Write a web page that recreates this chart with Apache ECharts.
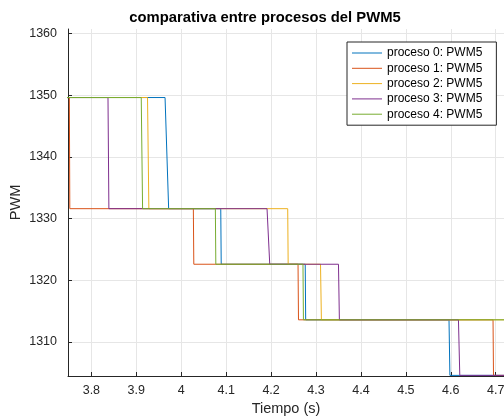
<!DOCTYPE html>
<html>
<head>
<meta charset="utf-8">
<script src="https://cdn.jsdelivr.net/npm/echarts@6/dist/echarts.min.js"></script>
<style>
	html, body { margin: 0; padding: 0; background: #fff; }
	#chart { width: 504px; height: 420px; }
</style>
</head>
<body>
<div id="chart"></div>
<script>
//niveles del PWM5
var L1 = 1349.6, L2 = 1331.6, L3 = 1322.6, L4 = 1313.6, L5 = 1304.6;

var nombres = ['proceso 0: PWM5', 'proceso 1: PWM5', 'proceso 2: PWM5', 'proceso 3: PWM5', 'proceso 4: PWM5'];
var colores = ['#0072BD', '#D95319', '#EDB120', '#7E2F8E', '#77AC30'];

//tiempo (s), valor
var proceso0 = [[3.70, L1], [3.964, L1], [3.972, L2], [4.088, L2], [4.089, L3], [4.276, L3], [4.277, L4], [4.596, L4], [4.598, L5], [4.75, L5]];
var proceso1 = [[3.70, L1], [3.751, L1], [3.752, L2], [4.027, L2], [4.028, L3], [4.260, L3], [4.261, L4], [4.694, L4], [4.695, L5], [4.75, L5]];
var proceso2 = [[3.70, L1], [3.925, L1], [3.928, L2], [4.237, L2], [4.238, L3], [4.310, L3], [4.312, L4], [4.75, L4]];
var proceso3 = [[3.70, L1], [3.837, L1], [3.839, L2], [4.191, L2], [4.197, L3], [4.350, L3], [4.352, L4], [4.617, L4], [4.620, L5], [4.75, L5]];
var proceso4 = [[3.70, L1], [3.911, L1], [3.914, L2], [4.076, L2], [4.077, L3], [4.271, L3], [4.272, L4], [4.75, L4]];

var xTicks = [3.8, 3.9, 4, 4.1, 4.2, 4.3, 4.4, 4.5, 4.6, 4.7];
var yTicks = [1310, 1320, 1330, 1340, 1350, 1360];

var datos = [proceso0, proceso1, proceso2, proceso3, proceso4];

var myChart = echarts.init(document.getElementById('chart'));

var series = [];
for (var i = 0; i < datos.length; i++) {
	series.push({
		name: nombres[i],
		type: 'line',
		symbol: 'none',
		data: datos[i],
		lineStyle: { width: 1, color: colores[i] },
		itemStyle: { color: colores[i] }
	});
}

var option = {
	animation: false,
	textStyle: { fontFamily: 'Liberation Sans' },
	title: {
		text: 'comparativa entre procesos del PWM5',
		left: 260,
		top: 5,
		textAlign: 'center',
		textStyle: { fontSize: 14.8, fontWeight: 'bold', color: '#000', fontFamily: 'Liberation Sans' }
	},
	grid: { left: 68, right: 0, top: 29, bottom: 44, containLabel: false, outerBoundsMode: 'none' },
	legend: {
		orient: 'vertical',
		left: 347,
		top: 42,
		padding: [5, 14, 5, 5],
		itemWidth: 30,
		itemHeight: 12,
		itemGap: 3.3,
		icon: 'path://M0,0 L30,0 L30,1 L0,1 Z',
		backgroundColor: '#fff',
		borderColor: '#262626',
		borderWidth: 1,
		textStyle: { fontSize: 12, color: '#000', fontFamily: 'Liberation Sans' },
		data: nombres
	},
	xAxis: {
		type: 'value',
		min: 3.748,
		max: 4.7184,
		name: 'Tiempo (s)',
		nameLocation: 'middle',
		nameGap: 25,
		nameMoveOverlap: false,
		nameTextStyle: { fontSize: 14.5, color: '#262626' },
		axisLine: { show: true, lineStyle: { color: '#262626' } },
		axisTick: { show: true, inside: true, length: 4, customValues: xTicks, lineStyle: { color: '#262626' } },
		axisLabel: { customValues: xTicks, margin: 8, fontSize: 12.5, color: '#262626' },
		splitLine: { show: true, lineStyle: { color: '#e6e6e6' } }
	},
	yAxis: {
		type: 'value',
		min: 1304.5,
		max: 1360.7,
		name: 'PWM',
		nameLocation: 'middle',
		nameGap: 45,
		nameMoveOverlap: false,
		nameTextStyle: { fontSize: 14.5, color: '#262626' },
		axisLine: { show: true, lineStyle: { color: '#262626' } },
		axisTick: { show: true, inside: true, length: 4, customValues: yTicks, lineStyle: { color: '#262626' } },
		axisLabel: {
			customValues: yTicks, margin: 11, fontSize: 12.5, color: '#262626',
			formatter: function(v) { return String(v); }
		},
		splitLine: { show: true, lineStyle: { color: '#e6e6e6' } }
	},
	series: series
};
myChart.setOption(option);
</script>
</body>
</html>
